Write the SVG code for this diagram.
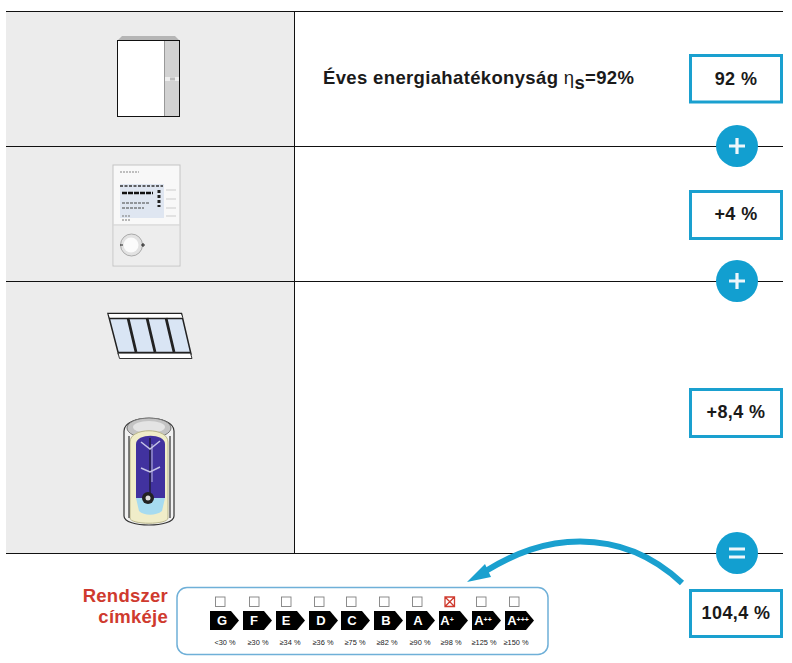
<svg xmlns="http://www.w3.org/2000/svg" width="792" height="663" viewBox="0 0 792 663">
<style>
text{font-family:"Liberation Sans",Arial,sans-serif;fill:#1a1a1a}
.val{font-size:18px;font-weight:700;text-anchor:middle;letter-spacing:.4px}
.box{fill:#fff;stroke:#1aa0cf;stroke-width:3}
.circ{fill:#129fd0}
.sym{stroke:#eef7fb;stroke-width:3.200;fill:none}
.rule{stroke:#111;stroke-width:1;fill:none}
.chk{fill:#fff;stroke:#808080;stroke-width:.9}
.tag{fill:#000}
.ltr{font-size:13px;font-weight:700;fill:#fff;text-anchor:middle}
.pct{font-size:7.400px;text-anchor:middle;fill:#222}
.red{font-size:18.500px;font-weight:700;text-anchor:end;letter-spacing:.25px;fill:#cf3a2e}
</style>
<defs>
<path id="tag" class="tag" d="M0 0H21L29 9.500L21 19H0Z"/>
<rect id="chk" class="chk" x="0" y="0" width="9.500" height="9.500"/>
</defs>
<rect id="panel" x="6" y="11" width="288" height="542" fill="#ececec"/>
<g id="connectors">
<path class="rule" d="M6 11.500H783M6 146.500H783M6 281.500H783M6 553.500H783M294.500 11V553"/>
<path d="M682 583C650 553 615 541.500 580 541.500C545 541.500 515 553 484 572" fill="none" stroke="#1aa0cf" stroke-width="6"/>
<path d="M467 582L485 564L491 577Z" fill="#1aa0cf"/>
</g>
<g id="boiler">
<path d="M118 40L122 36H175L179 40Z" fill="#b5b5b5"/>
<rect x="117.500" y="40.500" width="62" height="76" fill="#fff" stroke="#111" stroke-width="1"/>
<rect x="164.500" y="41" width="14.500" height="75" fill="#d2d2d2"/>
<path d="M164.500 41V116" stroke="#999" stroke-width="1"/>
<rect x="165" y="77" width="14" height="4" fill="#eee"/>
<rect x="170" y="77.500" width="5" height="3" fill="#bbb"/>
</g>
<g id="controller">
<rect x="113" y="165" width="67" height="101" fill="#f8f8f8" stroke="#c4c4c4" stroke-width="1"/>
<path d="M113.500 225H179.500" stroke="#c9c9c9" stroke-width="1"/>
<rect x="114" y="226" width="65" height="39" fill="#ededed"/>
<rect x="120" y="184" width="44" height="34" fill="#dfe6f1"/>
<path d="M120 186H163" stroke="#333" stroke-width="1.500" stroke-dasharray="3 1.500"/>
<path d="M122 193H153" stroke="#111" stroke-width="2.500" stroke-dasharray="5 1"/>
<path d="M122 203H149M122 208H144" stroke="#444" stroke-width="1.200" stroke-dasharray="3 1"/>
<path d="M159 190V207" stroke="#222" stroke-width="3" stroke-dasharray="3 2"/>
<path d="M120 172H139" stroke="#aaa" stroke-width="1.500" stroke-dasharray="2 1"/>
<path d="M122 216H131M122 220H131" stroke="#777" stroke-width="1.200" stroke-dasharray="2 1"/>
<path d="M166 190H176M166 199H176M166 208H176M166 216H176" stroke="#ccc" stroke-width="1"/>
<circle cx="131.500" cy="245" r="11" fill="#e2e2e2" stroke="#999" stroke-width=".8"/>
<circle cx="131" cy="245" r="7.500" fill="#fbfbfb"/>
<path d="M120 245H123M141 245H145M143 243V247" stroke="#222" stroke-width="1"/>
</g>
<g id="collector">
<path d="M108 313.500H181.500L191 354H118.500Z" fill="#d9e5f4" stroke="#222" stroke-width="1.500"/>
<path d="M108.500 314H181L182.500 318H110Z" fill="#fff"/>
<path d="M109.500 318.500H182.500" stroke="#222" stroke-width="1.500"/>
<path d="M118 353H190.500L192 358.500H119.500Z" fill="#fff" stroke="#333" stroke-width="1"/>
<path d="M118 352.500H190.500" stroke="#222" stroke-width="1.500"/>
<path d="M128 318L136 352M147 318L155 352M166 318L174 352" stroke="#222" stroke-width="2.800"/>
</g>
<g id="tank">
<path d="M124 431C124 414 174 414 174 431V516C174 528 124 528 124 516Z" fill="#f1f1f1" stroke="#333" stroke-width="1.200"/>
<ellipse cx="149" cy="428" rx="22" ry="10" fill="#c4c4c4" stroke="#777" stroke-width="1"/>
<ellipse cx="149" cy="427" rx="16" ry="6" fill="#e4e4e4"/>
<path d="M130 442C130 427 168 427 168 442V518C168 525 130 525 130 518Z" fill="#f0edc9" stroke="#b9b68c" stroke-width="1"/>
<path d="M136 444C136 433 165 433 165 444V498H136Z" fill="#41329f"/>
<path d="M136 498H165L162 511C156 516 144 516 139 511Z" fill="#a6dbf0"/>
<path d="M150 438V494" stroke="#111" stroke-width="1"/>
<path d="M152 444V482" stroke="#bcb9df" stroke-width="1"/>
<path d="M141 442L150 449L160 441M141 468L150 472L160 467" stroke="#c5c3e6" stroke-width="1.500" fill="none"/>
<circle cx="148" cy="498" r="6" fill="#222"/>
<circle cx="148" cy="498" r="2.500" fill="#ddd"/>
<path d="M129 436V518M170 436V518" stroke="#333" stroke-width="1.200"/>
</g>
<g id="heading"><text x="323" y="83.500" font-size="18.500" font-weight="700" letter-spacing=".35">Éves energiahatékonyság <tspan font-weight="400">η</tspan><tspan dy="5">s</tspan><tspan dy="-5">=92%</tspan></text></g>
<g id="v1"><rect class="box" x="690.500" y="55.500" width="91" height="46.500"/><text class="val" x="736" y="85">92 %</text></g>
<g id="v2"><rect class="box" x="690.500" y="191.500" width="91" height="47"/><text class="val" x="736" y="220">+4 %</text></g>
<g id="v3"><rect class="box" x="690.500" y="389.500" width="91" height="47"/><text class="val" x="736" y="418">+8,4 %</text></g>
<g id="v4"><rect class="box" x="690.500" y="590.500" width="91" height="46"/><text class="val" x="736" y="618.500">104,4 %</text></g>
<g id="plus1"><circle class="circ" cx="737" cy="146" r="21"/><path class="sym" d="M729 146H745M737 138V154"/></g>
<g id="plus2"><circle class="circ" cx="737" cy="281" r="21"/><path class="sym" d="M729 281H745M737 273V289"/></g>
<g id="equals"><circle class="circ" cx="737" cy="553" r="21"/><path class="sym" d="M729 549H745M729 557H745"/></g>
<g id="label-title"><text class="red" x="168" y="602">Rendszer</text><text class="red" x="168" y="623">címkéje</text></g>
<g id="label-panel">
<rect x="177" y="587.500" width="371" height="67" rx="10" fill="#fff" stroke="#6fb0d8" stroke-width="1.500"/>
<use href="#chk" x="215.500" y="597"/><use href="#chk" x="249.500" y="597"/><use href="#chk" x="281.500" y="597"/><use href="#chk" x="314.500" y="597"/><use href="#chk" x="346.500" y="597"/><use href="#chk" x="379.500" y="597"/><use href="#chk" x="412.500" y="597"/><use href="#chk" x="476.500" y="597"/><use href="#chk" x="509.500" y="597"/>
<path d="M445 597L454.500 606.500M454.500 597L445 606.500M445 597H454.500V606.500H445Z" fill="none" stroke="#cf3a2e" stroke-width="1.300"/>
<use href="#tag" x="210" y="611"/><use href="#tag" x="243" y="611"/><use href="#tag" x="276" y="611"/><use href="#tag" x="309" y="611"/><use href="#tag" x="341" y="611"/><use href="#tag" x="374" y="611"/><use href="#tag" x="406" y="611"/><use href="#tag" x="439" y="611"/><use href="#tag" x="472" y="611"/><use href="#tag" x="505" y="611"/>
<text class="ltr" x="222" y="625">G</text><text class="ltr" x="254" y="625">F</text><text class="ltr" x="286" y="625">E</text><text class="ltr" x="321" y="625">D</text><text class="ltr" x="352" y="625">C</text><text class="ltr" x="386" y="625">B</text><text class="ltr" x="418" y="625">A</text><text class="ltr" x="447" y="625">A<tspan font-size="7" dy="-3">+</tspan></text><text class="ltr" x="483" y="625">A<tspan font-size="7" dy="-3">++</tspan></text><text class="ltr" x="518" y="625">A<tspan font-size="7" dy="-3">+++</tspan></text>
<text class="pct" x="225" y="645">&lt;30 %</text><text class="pct" x="258" y="645">≥30 %</text><text class="pct" x="290" y="645">≥34 %</text><text class="pct" x="323" y="645">≥36 %</text><text class="pct" x="355" y="645">≥75 %</text><text class="pct" x="387" y="645">≥82 %</text><text class="pct" x="420" y="645">≥90 %</text><text class="pct" x="451" y="645">≥98 %</text><text class="pct" x="484" y="645">≥125 %</text><text class="pct" x="516" y="645">≥150 %</text>
</g>
</svg>
